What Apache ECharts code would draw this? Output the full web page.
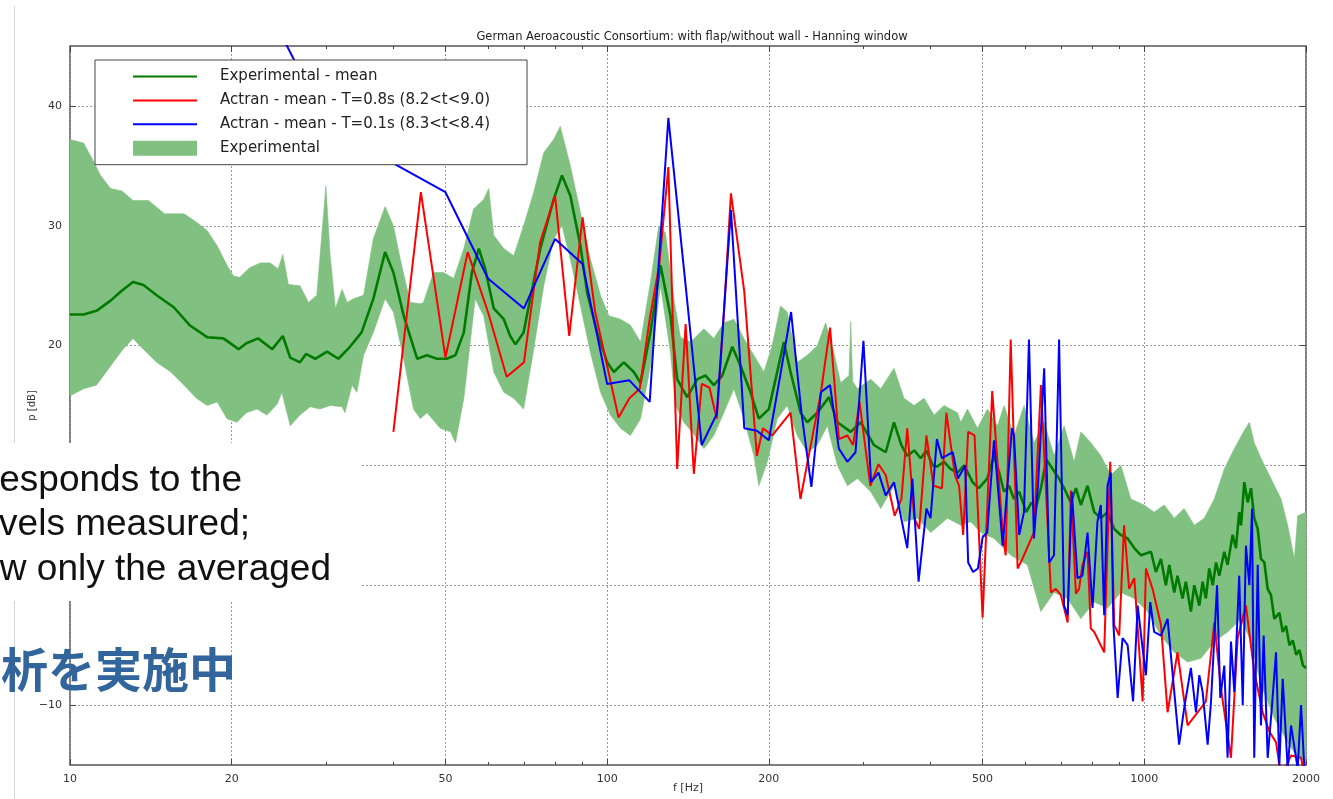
<!DOCTYPE html>
<html><head><meta charset="utf-8">
<script src="https://cdn.jsdelivr.net/npm/echarts@6/dist/echarts.min.js"></script>
<style>html,body{margin:0;padding:0;background:#fff;overflow:hidden}#c{width:1333px;height:799px}</style>
</head><body><div id="c"></div>
<script>
const chartTitle = 'German Aeroacoustic Consortium: with flap/without wall - Hanning window';
const xTicks = [10, 20, 50, 100, 200, 500, 1000, 2000];
const xMinorTicks = [30, 40, 60, 70, 80, 90, 300, 400, 600, 700, 800, 900];
const yTicks = [-10, 0, 10, 20, 30, 40];
const nameMean = 'Experimental - mean';
const nameT08 = 'Actran - mean - T=0.8s (8.2<t<9.0)';
const nameT01 = 'Actran - mean - T=0.1s (8.3<t<8.4)';
const nameBand = 'Experimental';

// Experimental band: upper envelope [f Hz, dB]
const bandUpper = [
 [10,37.2],[10.6,36.9],[11.05,35.4],[11.4,34.2],[11.9,33.1],[12.5,32.9],[13.1,32.1],[14.0,32.1],[15.0,31.0],[16.3,31.0],
 [17.2,30.3],[18.0,29.6],[18.8,28.3],[19.6,26.7],[20.15,25.8],[20.7,25.7],[21.6,26.5],[22.6,26.9],[23.6,26.9],[24.4,26.4],
 [24.9,27.6],[25.5,25.1],[26.8,25.0],[27.8,23.6],[28.8,24.2],[29.95,33.3],[30.5,27.5],[31.2,23.1],[32.1,24.7],[32.8,23.6],
 [33.7,23.9],[35.2,24.2],[36.7,28.9],[38.6,31.6],[40.0,30.0],[41.2,27.2],[43.0,23.6],[44.9,23.5],[45.5,23.6],[47.5,26.1],
 [49.6,26.1],[51.8,25.6],[54.1,28.1],[56.4,31.4],[58.9,32.2],[60.2,33.1],[61.5,29.2],[64.2,28.1],[67.0,27.5],[69.9,30.0],
 [73.0,32.8],[76.2,36.1],[79.5,37.2],[81.8,38.3],[85.4,35.0],[89.2,31.1],[93.1,27.2],[97.2,24.2],[100.7,22.5],[105.9,22.2],
 [110.5,21.7],[115.4,20.3],[120.4,25.3],[124.8,30.0],[128.4,29.4],[133.1,23.9],[136.9,20.7],[143.0,20.3],[151.4,21.4],[158.0,20.6],
 [164.9,21.9],[172.2,22.2],[179.7,20.6],[187.6,19.2],[195.8,17.8],[202.9,20.0],[210.2,23.3],[216.4,22.8],[225.9,18.6],[235.8,19.2],
 [246.2,20.0],[255.1,21.9],[264.4,19.4],[272.1,16.9],[282.0,17.5],[284.1,22.0],[286.5,17.0],[292.4,16.4],[309.5,17.2],[323.1,16.4],
 [342.0,18.1],[357.0,15.6],[372.7,15.0],[389.0,15.6],[406.1,14.2],[423.8,15.0],[448.9,14.4],[455.3,13.6],[468.6,14.7],[489.1,13.1],
 [510.5,14.7],[533.1,13.3],[548.3,15.0],[572.3,12.5],[597.3,15.0],[623.4,11.9],[650.8,13.6],[679.4,10.8],[709.1,13.3],[740.3,10.3],
 [761.9,12.8],[795.3,11.9],[830.1,10.8],[866.4,9.2],[904.4,10.0],[944.1,7.2],[999.5,6.7],[1043,6.1],[1089,6.7],[1137,5.6],
 [1186,6.4],[1239,5.0],[1293,5.6],[1350,7.2],[1409,9.7],[1471,11.4],[1530,12.8],[1569,13.6],[1602,11.9],[1649,10.6],
 [1721,8.9],[1797,7.2],[1849,5.0],[1903,2.2],[1930,5.8],[2000,6.1]
];
// Experimental band: lower envelope [f Hz, dB]
const bandLower = [
 [10,15.8],[10.6,16.4],[11.2,16.7],[11.9,18.3],[12.5,19.6],[13.1,20.6],[13.7,19.7],[14.5,18.6],[15.4,17.8],[16.3,16.7],
 [17.2,15.6],[18.0,15.0],[18.8,15.3],[19.6,13.9],[20.45,13.6],[21.3,14.4],[22.3,14.7],[23.25,14.2],[24.3,15.1],[24.8,16.1],
 [25.7,13.3],[26.8,14.2],[28.0,14.9],[29.2,14.7],[30.5,15.0],[32.1,14.9],[32.5,14.4],[33.5,16.7],[34.2,16.1],[35.2,19.2],
 [36.7,21.1],[38.6,23.9],[40.0,22.8],[41.8,18.9],[43.6,14.7],[44.9,13.9],[46.2,14.4],[48.9,13.1],[51.1,12.8],[52.2,11.9],
 [54.1,15.6],[56.8,23.9],[58.9,22.5],[61.5,17.8],[64.2,16.1],[67.0,15.6],[69.9,14.7],[73.0,19.7],[76.2,25.0],[79.5,28.9],
 [82.4,30.0],[85.4,27.2],[89.2,23.3],[93.1,19.4],[97.2,16.1],[101.4,14.2],[105.9,13.1],[110.5,12.5],[115.4,13.9],[120.4,18.3],
 [125.7,25.0],[131.2,19.4],[134.0,15.0],[138.9,13.6],[145.0,12.6],[151.4,11.4],[158.0,12.5],[164.9,14.4],[172.2,16.4],[179.7,13.9],
 [187.6,10.8],[191.6,8.3],[198.7,10.3],[207.3,13.9],[216.4,15.0],[225.9,12.5],[235.8,11.1],[246.2,11.7],[257.0,13.3],[268.3,10.0],
 [280.1,8.3],[292.4,8.9],[309.5,7.8],[323.1,6.4],[342.0,8.3],[357.0,5.3],[378.1,5.6],[400.3,4.4],[430.0,5.6],[455.3,5.0],
 [475.3,5.3],[496.1,4.4],[525.2,3.9],[564.2,2.5],[606.0,1.7],[641.6,-2.2],[679.4,-0.6],[719.6,-1.1],[761.9,-2.8],[806.6,-1.4],
 [854.3,-1.9],[904.4,-0.6],[957.6,-1.1],[1014,-2.2],[1074,-4.2],[1137,-5.6],[1204,-6.4],[1275,-6.1],[1350,-4.7],[1429,-3.9],
 [1514,-2.8],[1580,-4.7],[1649,-8.3],[1746,-11.1],[1849,-13.1],[1930,-14.4],[2000,-14.7]
];
// Experimental mean [f Hz, dB]
const expMean = [
 [10,22.6],[10.6,22.6],[11.2,22.9],[11.9,23.75],[12.5,24.6],[13.1,25.3],[13.7,25.05],[14.5,24.2],[15.6,23.2],[16.7,21.7],
 [18.0,20.7],[19.3,20.6],[20.6,19.7],[21.3,20.2],[22.4,20.6],[23.8,19.7],[24.9,20.8],[25.7,19.0],[26.8,18.6],[27.5,19.3],
 [28.6,18.9],[30.1,19.5],[31.6,18.9],[33.2,19.9],[34.9,21.1],[36.7,23.9],[38.6,27.8],[40.0,26.1],[41.8,22.5],[44.3,18.9],
 [46.2,19.2],[48.2,18.9],[50.3,18.9],[52.2,19.2],[54.1,21.1],[56.0,26.1],[57.7,28.1],[59.3,26.4],[61.5,23.1],[64.2,22.2],
 [66.0,20.8],[67.5,20.1],[69.9,21.1],[71.9,23.9],[75.1,28.1],[79.5,32.2],[82.4,34.2],[85.4,32.5],[89.2,28.3],[91.8,24.4],
 [95.8,21.1],[100,18.6],[102.9,17.8],[107.4,18.6],[112.1,17.8],[115.4,16.9],[120.4,21.1],[125.7,26.7],[131.2,22.5],[135.0,17.2],
 [140.9,15.7],[147.2,17.2],[152.5,17.5],[158.0,16.7],[163.8,17.5],[171.0,19.9],[177.2,18.3],[184.9,16.1],[191.6,13.9],[200.0,14.7],
 [207.3,17.8],[213.3,20.3],[219.5,17.8],[229.2,14.4],[235.8,13.6],[246.2,14.4],[258.8,15.7],[268.3,13.6],[284.1,12.8],[296.5,13.6],
 [313.9,11.7],[330.1,11.1],[342.0,13.6],[353,11.7],[362,10.8],[373,11.25],[383.5,10.6],[393,11.25],[404,10.0],[411,9.9],
 [424,10.3],[436,9.7],[449,9.4],[462,10.0],[479,8.6],[492,8.1],[510,8.9],[525,10.8],[537,9.4],[548,7.8],
 [560,8.3],[572,7.2],[585,7.8],[603,6.1],[616,6.9],[628,6.4],[642,8.1],[657,10.5],[694,8.9],[709,8.1],
 [730,6.9],[746,8.1],[762,6.7],[784,8.3],[807,6.1],[830,5.6],[854,6.1],[879,4.7],[904,4.2],[931,3.9],
 [958,3.1],[986,2.5],[1029,2.8],[1051,1.1],[1074,2.2],[1097,0.0],[1113,1.7],[1137,-0.6],[1153,0.8],[1178,-1.1],
 [1195,0.3],[1221,-2.2],[1239,0.0],[1266,-1.7],[1284,0.3],[1302,-1.1],[1321,1.4],[1341,0.0],[1360,1.9],[1379,0.8],
 [1409,2.8],[1429,1.7],[1460,4.2],[1481,3.1],[1502,6.1],[1514,5.0],[1535,8.6],[1558,6.9],[1580,8.1],[1602,5.6],
 [1626,4.7],[1649,2.2],[1673,1.9],[1697,-0.3],[1721,-0.8],[1746,-2.8],[1784,-2.3],[1810,-3.9],[1836,-3.4],[1863,-5.0],
 [1890,-4.6],[1918,-5.8],[1945,-5.4],[1974,-6.7],[2000,-6.9]
];
// Actran T=0.8s [f Hz, dB]
const actran08 = [
 [40,12.8],[45,32.8],[50,19.0],[55,27.8],[60,22.8],[65,17.4],[70,18.6],[75,28.6],[80,32.5],[85,20.8],
 [90,30.7],[95,22.8],[100,18.3],[105,14.0],[110,15.6],[115,16.4],[120,22.2],[125,26.7],[130,34.9],[135,9.7],
 [140,21.8],[145,9.3],[150,16.8],[155,16.5],[160,13.9],[165,22.8],[170,32.7],[180,24.5],[190,10.8],[195,13.1],
 [203,12.5],[219.5,14.4],[229,7.2],[250,16.1],[260,21.5],[270,12.2],[280,12.5],[287,11.7],[295,15.3],[309,8.3],
 [320,10.1],[330,9.2],[343,5.8],[353,7.2],[362,13.1],[373,5.6],[381,4.7],[393,12.5],[405,8.3],[420,8.1],
 [428,14.4],[444,9.2],[452,8.3],[460,4.2],[470,12.8],[483,12.5],[500,-2.7],[521,16.2],[545,4.4],[552,2.5],
 [564,20.5],[581,1.4],[593,2.2],[623,4.4],[642,16.7],[670,-0.6],[684,-0.3],[699,-0.8],[720,-3.1],[730,7.9],
 [746,-0.7],[756,-0.3],[767,1.7],[784,2.8],[795,-3.6],[807,-3.9],[842,-5.6],[864,10.3],[879,-3.3],[898,-4.2],
 [917,5.0],[937,-0.3],[958,0.6],[993,-9.7],[1007,1.4],[1036,-0.3],[1074,-3.3],[1105,-10.6],[1153,-5.6],[1204,-11.7],
 [1302,-9.7],[1350,-3.1],[1389,-8.6],[1450,-14.4],[1492,-4.4],[1546,-1.7],[1602,-7.2],[1661,-10.6],[1709,-12.2],[1759,-13.1],
 [1797,-16],[1876,-14.2],[1958,-14.4],[1990,-16]
];
// Actran T=0.1s [f Hz, dB]
const actran01 = [
 [20,54],[30,38.6],[40,35.2],[50,32.8],[60,25.6],[70,23.1],[80,28.9],[90,26.8],[100,16.8],[110,17.1],
 [120,15.3],[130,39.0],[140,25.0],[150,11.7],[160,14.3],[170,31.3],[180,13.1],[190,12.9],[200,12.1],[210,17.5],
 [220,22.8],[230,14.4],[240,8.2],[250,16.1],[260,16.7],[270,11.4],[280,10.3],[290,11.1],[300,20.4],[310,8.6],
 [320,9.4],[330,7.5],[342,8.6],[362,3.1],[370,8.9],[380,0.3],[393,6.4],[400,5.6],[411,12.2],[420,10.6],
 [440,11.1],[450,8.9],[464,10.0],[470,1.9],[480,1.1],[490,1.4],[500,4.0],[510,4.4],[525,12.1],[545,3.3],
 [567,13.1],[572,12.5],[585,4.2],[597,6.1],[610,20.5],[623,3.9],[634,8.3],[651,18.1],[665,1.9],[679,2.5],
 [694,20.5],[709,-1.7],[720,-2.5],[733,7.8],[751,0.6],[767,0.8],[784,4.4],[801,-1.9],[818,5.3],[830,6.7],
 [842,-2.5],[854,8.3],[866,9.4],[876,-3.3],[892,-9.4],[911,-4.4],[931,-5.0],[953,-9.7],[972,-1.7],[993,-5.3],
 [1007,-7.5],[1026,-1.4],[1043,-3.9],[1074,-4.2],[1105,-2.8],[1137,-8.9],[1161,-13.3],[1186,-10.3],[1221,-6.9],[1248,-10.6],
 [1266,-7.5],[1284,-8.9],[1312,-13.3],[1331,-9.7],[1366,0.0],[1385,-9.4],[1409,-6.7],[1429,-14.4],[1450,-4.7],[1471,-8.9],
 [1502,0.8],[1525,-10.0],[1546,3.3],[1569,0.0],[1587,6.4],[1602,-14.4],[1626,1.7],[1649,-11.7],[1668,-4.2],[1697,-14.4],
 [1727,-10.3],[1759,-5.6],[1784,-15],[1810,-7.8],[1849,-15.3],[1876,-11.7],[1930,-15.3],[1958,-10],[1986,-15.3]
];
// Slide text partially covering the chart
const overlayLines = ['esponds to the', 'vels measured;', 'w only the averaged'];
const overlayJa = '析を実施中';

const chart = echarts.init(document.getElementById('c'), null, {renderer: 'canvas'});
const tickFont = {fontFamily: 'DejaVu Sans', fontSize: 11, color: '#333'};
const gridLine = {show: true, lineStyle: {color: '#9a9a9a', width: 1, type: [2, 2]}};
function xAxisDef(pos, values, len, labels, split) {
  return {
    type: 'log', logBase: 10, min: 10, max: 2000, position: pos, gridIndex: 0,
    axisLine: {show: false, onZero: false},
    axisTick: {show: true, inside: true, length: len, customValues: values, lineStyle: {color: '#444', width: 1}},
    axisLabel: labels ? Object.assign({show: true, customValues: values, margin: 9, formatter: v => String(v)}, tickFont) : {show: false},
    splitLine: split ? gridLine : {show: false},
    minorTick: {show: false}, minorSplitLine: {show: false}
  };
}
const xAxes = [
  xAxisDef('bottom', xTicks, 6, true, true),
  xAxisDef('top', xTicks, 6, false, false),
  xAxisDef('bottom', xMinorTicks, 3, false, false),
  xAxisDef('top', xMinorTicks, 3, false, false)
];
Object.assign(xAxes[0], {
  name: 'f [Hz]', nameLocation: 'middle', nameGap: 18, nameMoveOverlap: false,
  nameTextStyle: {fontFamily: 'DejaVu Sans', fontSize: 11, color: '#333'}
});

const minus = v => (v < 0 ? '\u2212' + Math.abs(v) : String(v));
const yAxes = [
  {type: 'value', min: -15, max: 45, position: 'left',
   name: 'p [dB]', nameLocation: 'middle', nameGap: 33, nameRotate: 90, nameMoveOverlap: false,
   nameTextStyle: {fontFamily: 'DejaVu Sans', fontSize: 10, color: '#333'},
   axisLine: {show: false, onZero: false},
   axisTick: {show: true, inside: true, length: 6, customValues: yTicks, lineStyle: {color: '#444'}},
   axisLabel: Object.assign({customValues: yTicks, formatter: minus, margin: 8}, tickFont),
   splitLine: gridLine},
  {type: 'value', min: -15, max: 45, position: 'right',
   axisLine: {show: false, onZero: false},
   axisTick: {show: true, inside: true, length: 6, customValues: yTicks, lineStyle: {color: '#444'}},
   axisLabel: {show: false}, splitLine: {show: false}}
];

const overlayGraphics = [
  {type: 'line', z: 50, shape: {x1: 14.5, y1: 6, x2: 14.5, y2: 799}, style: {stroke: '#d4d4d4', lineWidth: 1}},
  {type: 'rect', z: 100, shape: {x: 0, y: 443, width: 362, height: 158}, style: {fill: '#ffffff'}}
];
const lineEnds = [242, 250, 331];
const lineYs = [481, 525, 570];
overlayLines.forEach((t, i) => overlayGraphics.push({
  type: 'text', z: 101,
  style: {text: t, x: lineEnds[i], y: lineYs[i], align: 'right', verticalAlign: 'middle',
          font: '37px "Liberation Sans", Arial, sans-serif', fill: '#111'}
}));
overlayGraphics.push({
  type: 'text', z: 101,
  style: {text: overlayJa, x: 236, y: 669, align: 'right', verticalAlign: 'middle',
          font: 'bold 47px "Noto Sans CJK JP", sans-serif', fill: '#31659c'}
});

const lineIcon = 'path://M0,0 L64,0 L64,2 L0,2 Z';
const option = {
  animation: false,
  backgroundColor: '#ffffff',
  title: {text: chartTitle, left: 687, top: 26, textAlign: 'center',
          textStyle: {fontFamily: 'DejaVu Sans', fontSize: 11.5, fontWeight: 'normal', color: '#222'}},
  grid: {left: 70, right: 27, top: 46, bottom: 33, show: true, borderColor: '#555', borderWidth: 1.5,
         backgroundColor: 'transparent', containLabel: false},
  xAxis: xAxes,
  yAxis: yAxes,
  legend: {
    orient: 'vertical', left: 95, top: 60, z: 20,
    itemWidth: 64, itemHeight: 15, itemGap: 8.9, symbolKeepAspect: true,
    padding: [9, 37, 9, 38],
    backgroundColor: '#ffffff', borderColor: '#444', borderWidth: 1, borderRadius: 0,
    textStyle: {fontFamily: 'DejaVu Sans', fontSize: 15, color: '#222', padding: [0, 0, 0, 18]},
    data: [{name: nameMean, icon: lineIcon}, {name: nameT08, icon: lineIcon}, {name: nameT01, icon: lineIcon}, {name: nameBand, icon: 'rect'}]
  },
  series: [
    {name: nameBand, type: 'custom', xAxisIndex: 0, yAxisIndex: 0, z: 1,
     itemStyle: {color: '#80c080'},
     data: [bandUpper[0]],
     renderItem: function (params, api) {
       const pts = [];
       bandUpper.forEach(p => pts.push(api.coord(p)));
       for (let i = bandLower.length - 1; i >= 0; i--) pts.push(api.coord(bandLower[i]));
       return {type: 'polygon', shape: {points: pts}, style: {fill: '#80c080', stroke: '#80c080', lineWidth: 0.6}};
     }},
    {name: nameMean, type: 'line', data: expMean, symbol: 'none', showSymbol: false, z: 2,
     lineStyle: {color: '#007a00', width: 2.6}, itemStyle: {color: '#007a00'}},
    {name: nameT08, type: 'line', data: actran08, symbol: 'none', showSymbol: false, z: 2, clip: true,
     lineStyle: {color: '#ff0000', width: 2}, itemStyle: {color: '#ff0000'}},
    {name: nameT01, type: 'line', data: actran01, symbol: 'none', showSymbol: false, z: 2, clip: true,
     lineStyle: {color: '#0000ff', width: 2}, itemStyle: {color: '#0000ff'}}
  ],
  graphic: overlayGraphics
};
chart.setOption(option);
</script></body></html>
